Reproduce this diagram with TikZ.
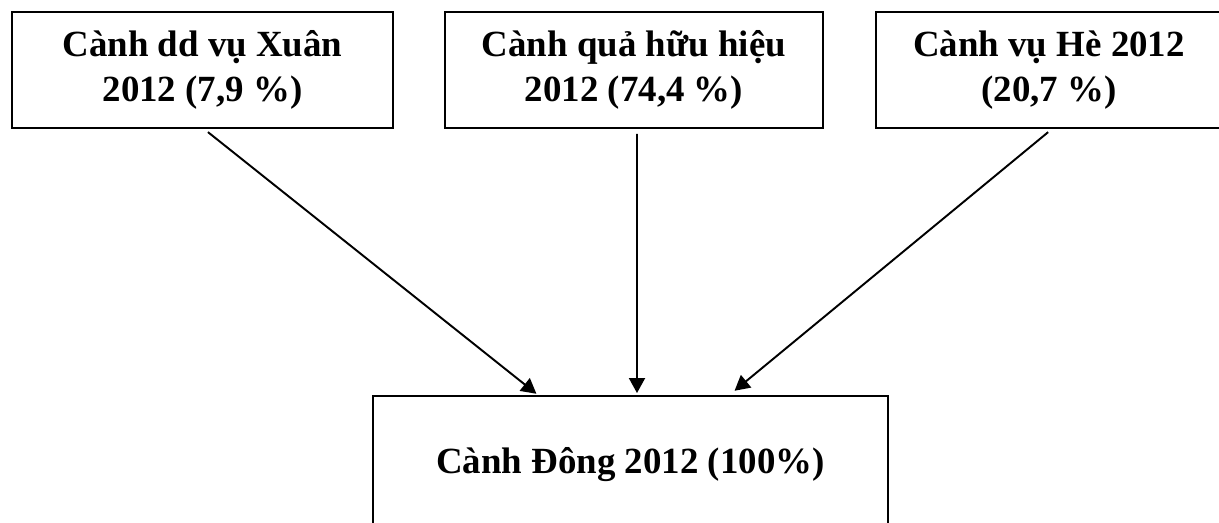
\documentclass[tikz,border=0pt]{standalone}
\usepackage{fontspec}
\setmainfont{Liberation Serif}
\usetikzlibrary{arrows.meta, positioning, calc}

\begin{document}
\begin{tikzpicture}[every node/.style={font=\bfseries\fontsize{21}{25.6}\selectfont},
    branch/.style={draw, line width=1.1pt, align=center, minimum height=2.32cm, inner sep=0pt},
    flow/.style={-{Triangle[length=0.3cm, width=0.32cm]}, line width=1.1pt, shorten <=0.1cm, shorten >=0.04cm}]
        \useasboundingbox (0,0) rectangle (24.38,-10.46);
        \node[branch, minimum width=7.62cm] (xuan) at (4.05,-1.40)  {Cành dd vụ Xuân\\2012 (7,9 \%)};
        \node[branch, minimum width=7.56cm] (qua)  at (12.68,-1.40) {Cành quả hữu hiệu\\2012 (74,4 \%)};
        \node[branch, minimum width=6.92cm] (he)   at (20.98,-1.40) {Cành vụ Hè 2012\\(20,7 \%)};
        \node[branch, minimum width=10.30cm, minimum height=2.76cm] (dong) at (12.61,-9.30) {Cành Đông 2012 (100\%)};
        \draw[flow] ([xshift=0.03cm]xuan.south) -- ([xshift=-1.85cm]dong.north);
        \draw[flow] ([xshift=0.06cm]qua.south)  -- ([xshift=0.13cm]dong.north);
        \draw[flow] ([xshift=0.06cm]he.south)   -- ([xshift=2.05cm,yshift=0.06cm]dong.north);
      \end{tikzpicture}
\end{document}
